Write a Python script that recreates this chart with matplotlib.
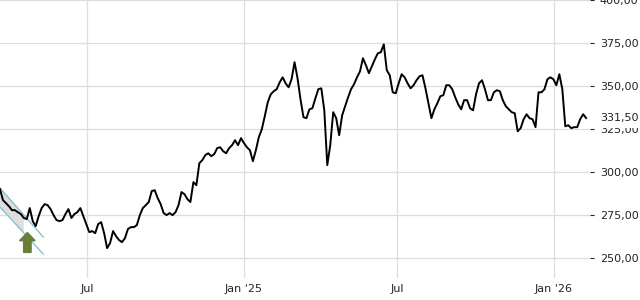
import matplotlib
matplotlib.use("Agg")
import matplotlib.pyplot as plt
import matplotlib.dates as mdates
from matplotlib.patches import Polygon
import pandas as pd

# closing prices, read every 3.5 days from the chart
close = [
    290.1, 283.7, 282.0, 280.2, 277.9, 277.9, 276.7, 275.6, 273.3, 272.7,
    279.1, 271.5, 268.6, 274.4, 279.1, 281.4, 280.8, 278.5, 275.0, 272.1,
    271.5, 272.1, 275.6, 278.5, 273.3, 275.6, 276.7, 279.1, 274.4, 269.8,
    265.1, 265.7, 264.5, 269.8, 270.9, 264.5, 255.8, 258.7, 265.7, 262.8,
    260.5, 259.3, 261.6, 266.9, 268.0, 268.0, 269.2, 275.0, 279.1, 280.8,
    282.6, 289.0, 289.5, 284.9, 281.4, 276.2, 275.0, 276.2, 275.0, 276.7,
    280.8, 288.4, 287.2, 284.3, 282.6, 294.2, 292.4, 305.2, 307.0, 309.9,
    311.0, 309.3, 310.5, 314.0, 314.5, 312.2, 311.0, 314.0, 315.7, 318.6,
    315.7, 319.8, 316.9, 314.5, 312.8, 306.4, 312.8, 320.4, 325.0, 332.6,
    340.7, 345.3, 347.1, 348.3, 352.3, 355.2, 351.7, 349.4, 354.1, 364.0,
    354.7, 342.4, 332.0, 331.4, 336.6, 337.2, 343.0, 348.3, 348.8, 336.0,
    304.1, 315.7, 334.9, 331.4, 321.5, 333.1, 338.4, 343.6, 348.3, 351.2,
    355.2, 358.7, 366.3, 362.2, 357.6, 361.6, 365.7, 369.2, 369.8, 374.4,
    359.3, 356.4, 346.5, 345.9, 351.7, 357.0, 355.2, 351.7, 348.8, 350.6,
    353.5, 355.8, 356.4, 348.8, 340.1, 331.4, 336.6, 340.1, 344.2, 344.8,
    350.6, 350.6, 348.3, 343.6, 339.5, 336.6, 341.9, 341.9, 337.2, 336.0,
    345.3, 351.7, 353.5, 348.3, 341.9, 341.9, 346.5, 347.7, 347.1, 341.9,
    338.4, 336.6, 334.9, 334.3, 323.8, 325.6, 330.8, 333.7, 331.4, 330.8,
    326.2, 346.5, 346.5, 348.3, 354.1, 355.2, 354.1, 350.6, 357.0, 348.3,
    326.7, 327.3, 325.6, 326.2, 326.2, 330.8, 333.7, 331.5,
]
start = "2024-03-20 12:00"
last_price = 331.5

y_ticks = [250, 275, 300, 325, 350, 375, 400]
x_ticks = ["2024-07-01", "2025-01-01", "2025-07-01", "2026-01-01"]
x_labels = ["Jul", "Jan '25", "Jul", "Jan '26"]

# downtrend channel at the start
chan_dates = ["2024-03-20 12:00", "2024-05-10 12:00"]
chan_upper = [290.7, 262.2]
chan_lower = [279.7, 252.3]

dates = pd.date_range(start, periods=len(close), freq="84h")

fig = plt.figure(figsize=(6.4, 3.0), dpi=100)
ax = fig.add_axes([0.0, 0.0733, 0.9219, 0.9267])

ax.set_xlim(pd.Timestamp("2024-03-20 12:00"), pd.Timestamp("2026-02-12 14:00"))
ax.set_ylim(238.4, 400.2)

ax.set_yticks(y_ticks)
ax.set_yticklabels([f"{v:.2f}".replace(".", ",") for v in y_ticks])
ax.set_xticks(pd.to_datetime(x_ticks))
ax.set_xticklabels(x_labels)

ax.yaxis.tick_right()
ax.tick_params(axis="y", length=3, width=0.8, pad=4, labelsize=8, colors="#222222")
ax.tick_params(axis="x", length=0, pad=4, labelsize=8, colors="#222222")
for s in ax.spines.values():
    s.set_visible(False)
ax.grid(True, color="#dddddd", linewidth=0.9)
ax.set_axisbelow(True)

# channel
cd = pd.to_datetime(chan_dates)
fill_end = pd.Timestamp("2024-04-16")
frac = (fill_end - cd[0]) / (cd[1] - cd[0])
up_end = chan_upper[0] + frac * (chan_upper[1] - chan_upper[0])
lo_end = chan_lower[0] + frac * (chan_lower[1] - chan_lower[0])
ax.fill_between([cd[0], fill_end], [chan_upper[0], up_end], [chan_lower[0], lo_end],
                color="#dedede", zorder=1)
ax.plot(cd, chan_upper, color="#8cc4cc", lw=1.0, zorder=2)
ax.plot(cd, chan_lower, color="#8cc4cc", lw=1.0, zorder=2)

ax.plot(dates, close, color="black", lw=1.4, zorder=3)

# green up arrow under the channel
xc = pd.Timestamp("2024-04-21 16:00")
d = pd.Timedelta
arrow = [
    (xc, 264.9),
    (xc + d(days=9.2), 260.1),
    (xc + d(days=4.4), 260.1),
    (xc + d(days=4.4), 253.3),
    (xc - d(days=4.4), 253.3),
    (xc - d(days=4.4), 260.1),
    (xc - d(days=9.2), 260.1),
]
arrow = [(mdates.date2num(a), b) for a, b in arrow]
ax.add_patch(Polygon(arrow, closed=True, color="#6b7d3a", zorder=4))

# last price label
ax.annotate(f"{last_price:.2f}".replace(".", ","), xy=(1, last_price),
            xycoords=("axes fraction", "data"), xytext=(7, 0),
            textcoords="offset points", va="center", ha="left", fontsize=8,
            color="#222222", annotation_clip=False,
            bbox=dict(facecolor="white", edgecolor="none", pad=3.5))

fig.savefig("out.png", dpi=100)
